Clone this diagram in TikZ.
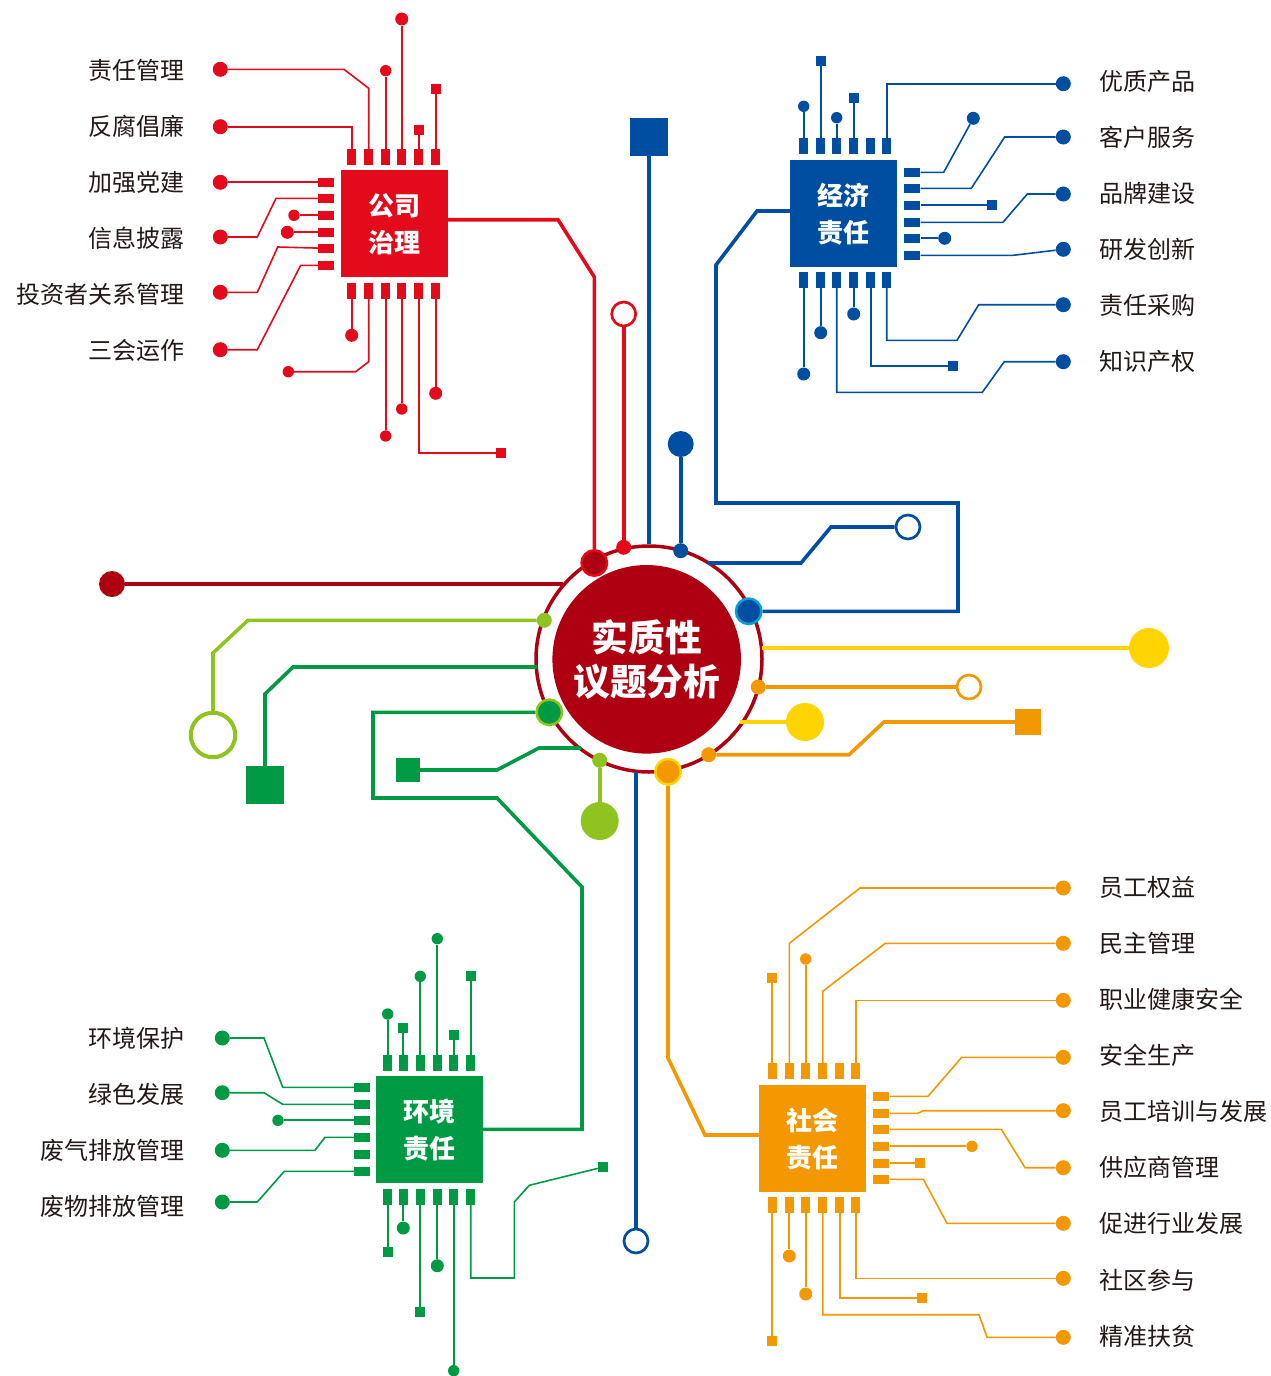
\documentclass[tikz,border=0pt]{standalone}
\usepackage{fontspec}
\newfontfamily\cjk{Noto Sans CJK SC}
\usetikzlibrary{positioning}
\definecolor{cred}{HTML}{E20A1B}
\definecolor{cdark}{HTML}{AE0010}
\definecolor{cblue}{HTML}{004EA2}
\definecolor{ccyan}{HTML}{00A0D9}
\definecolor{cgreen}{HTML}{009A44}
\definecolor{clime}{HTML}{8FC31F}
\definecolor{corange}{HTML}{F39800}
\definecolor{cyellow}{HTML}{FFD400}
\definecolor{ctext}{HTML}{231815}
\tikzset{
    chip/.style={fill, minimum size=107pt, inner sep=0pt},
    chiptext/.style={text=white, inner sep=0pt, align=center,
        font=\cjk\bfseries\fontsize{26}{37}\selectfont},
    pinv/.style={fill, minimum width=9pt, minimum height=16pt, inner sep=0pt},
    pinh/.style={fill, minimum width=16pt, minimum height=9pt, inner sep=0pt},
    dotl/.style={circle, fill, minimum size=15pt, inner sep=0pt},
    dotm/.style={circle, fill, minimum size=13pt, inner sep=0pt},
    dots/.style={circle, fill, minimum size=11.4pt, inner sep=0pt},
    sqs/.style={fill, minimum size=10pt, inner sep=0pt},
    wirea/.style={line width=2.1pt},
    wireb/.style={line width=1.6pt},
    trunk/.style={line width=3.6pt},
    hubdot/.style 2 args={circle, draw=#1, fill=#2, line width=2.5pt, minimum size=25.5pt, inner sep=0pt},
    hollow/.style={circle, draw, fill=white, line width=2.7pt, minimum size=24pt, inner sep=0pt},
    lblw/.style={anchor=east, text=ctext, inner sep=0pt, font=\cjk\fontsize{24}{28}\selectfont},
    lble/.style={anchor=west, text=ctext, inner sep=0pt, font=\cjk\fontsize{24}{28}\selectfont},
}
\begin{document}
\begin{tikzpicture}[x=1pt, y=-1pt]
    \useasboundingbox (0,0) rectangle (1271,1376);
    % hub
    \node[circle, draw=cdark, fill=white, line width=3.5pt, minimum size=226pt, inner sep=0pt] (ring) at (649,659) {};
    \node[circle, fill=cdark, text=white, minimum size=188.6pt, inner sep=0pt, align=center,
        font=\cjk\bfseries\fontsize{36.7}{44}\selectfont] (hub) at (646.7,659.3) {实质性\\议题分析};
    \node[hubdot={cred}{cdark}] (hr) at (594.3,563) {};
    \node[hubdot={ccyan}{cblue}] (hb) at (748.7,611.3) {};
    \node[hubdot={clime}{cgreen}] (hg) at (549.3,712.3) {};
    \node[hubdot={cyellow}{corange}] (ho) at (668,771.7) {};
    \node[circle, fill=cred, minimum size=15pt, inner sep=0pt] (sr) at (623.7,547.3) {};
    \node[circle, fill=cblue, minimum size=15pt, inner sep=0pt] (sb) at (680.7,550.7) {};
    \node[circle, fill=corange, minimum size=15pt, inner sep=0pt] (so1) at (758.3,687) {};
    \node[circle, fill=corange, minimum size=15pt, inner sep=0pt] (so2) at (708.7,754.7) {};
    \node[circle, fill=clime, minimum size=15pt, inner sep=0pt] (sl1) at (544.3,620.3) {};
    \node[circle, fill=clime, minimum size=15pt, inner sep=0pt] (sl2) at (599.7,760.3) {};

    % red chip
    \begin{scope}[color=cred]
    \node[chip] (rchip) at (394.5,223.5) {};
    \node[chiptext] (rname) at (394.5,224.5) {公司\\治理};
    \foreach \i/\x in {1/351.7,2/368.7,3/385.7,4/401.7,5/418.7,6/435.7} {
        \node[pinv] (rt\i) at (\x,157) {};
        \node[pinv] (rb\i) at (\x,291) {};
    }
    \foreach \i/\y in {1/182.3,2/198.3,3/215.3,4/232.3,5/248.3,6/265.3}
        \node[pinh] (rl\i) at (326,\y) {};
    \foreach \n/\x/\y in {re1/220.3/69.3,re2/220.3/126.7,re3/220.3/182.3,re4/220.3/237,re5/220.3/292.3,re6/220.3/349.7}
        \node[dotl] (\n) at (\x,\y) {};
    \foreach \n/\x/\y in {rd4/401.7/19,rd7/351.7/335.3,rd10/435.7/393.3,rd2/287.3/232.3}
        \node[dotm] (\n) at (\x,\y) {};
    \foreach \n/\x/\y in {rd1/294/215.3,rd3/385.7/70.7,rd8/288.3/371.7,rd9/385.7/436,rd11/401.7/409}
        \node[dots] (\n) at (\x,\y) {};
    \foreach \n/\x/\y in {rs1/418.7/130,rs2/435.7/89,rs3/501/453}
        \node[sqs] (\n) at (\x,\y) {};
    \foreach \a/\b in {rl1/re3,rl3/rd1,rl4/rd2,rt3/rd3,rt4/rd4,rt5/rs1,rt6/rs2,rb1/rd7,rb3/rd9,rb4/rd11,rb6/rd10}
        \draw[wirea] (\a) -- (\b);
    \draw[wireb] (rt2) -- (368.7,88.3) -- (344,69.3) -- (re1);
    \draw[wireb] (rt1) -- (351.7,126.7) -- (re2);
    \draw[wireb] (rl2) -- (276,198.3) -- (257.3,237) -- (re4);
    \draw[wireb] (rl5) -- (277.7,247) -- (257.3,292.3) -- (re5);
    \draw[wireb] (rl6) -- (300.7,265.3) -- (257.3,349.7) -- (re6);
    \draw[wireb] (rb2) -- (368.7,361.7) -- (355.7,371.7) -- (rd8);
    \draw[wireb] (rb5) -- (418.7,453) -- (rs3);
    \end{scope}

    % blue chip
    \begin{scope}[color=cblue]
    \node[chip] (bchip) at (843.8,213.3) {};
    \node[chiptext] (bname) at (843.8,214.3) {经济\\责任};
    \foreach \i/\x in {1/803.7,2/820.7,3/836.7,4/853.7,5/870.7,6/886.7} {
        \node[pinv] (bt\i) at (\x,146) {};
        \node[pinv] (bb\i) at (\x,280) {};
    }
    \foreach \i/\y in {1/172.3,2/188.3,3/205.3,4/222.3,5/238.3,6/255.3}
        \node[pinh] (br\i) at (912.3,\y) {};
    \foreach \n/\y in {be1/83.7,be2/137,be3/194,be4/249.3,be5/304.7,be6/361.7}
        \node[dotl] (\n) at (1063.3,\y) {};
    \foreach \n/\x/\y in {bd1/973.3/118.3,bd2/944.7/238.3,bd3/803.7/374,bd4/820.7/332.7,bd5/853.7/314}
        \node[dotm] (\n) at (\x,\y) {};
    \foreach \n/\x/\y in {bd6/803.7/106.3,bd7/836.7/117.7}
        \node[dots] (\n) at (\x,\y) {};
    \foreach \n/\x/\y in {bs1/992.3/205.3,bs2/820.7/61,bs3/853.7/97.7,bs4/953.3/366}
        \node[sqs] (\n) at (\x,\y) {};
    \foreach \a/\b in {br3/bs1,br5/bd2,bt1/bd6,bt2/bs2,bt3/bd7,bt4/bs3,bb1/bd3,bb2/bd4,bb4/bd5}
        \draw[wirea] (\a) -- (\b);
    \draw[wireb] (bt6) -- (886.7,83.7) -- (be1);
    \draw[wireb] (br1) -- (943.7,172.3) -- (bd1);
    \draw[wireb] (br2) -- (971.3,188.3) -- (1004.7,137) -- (be2);
    \draw[wireb] (br4) -- (1003,222.3) -- (1027.3,194) -- (be3);
    \draw[wireb] (br6) -- (1013.3,255.3) -- (be4);
    \draw[wireb] (bb3) -- (836.7,392.3) -- (982.3,392.3) -- (1004.3,361.7) -- (be6);
    \draw[wireb] (bb5) -- (870.7,366) -- (bs4);
    \draw[wireb] (bb6) -- (886.7,340.3) -- (957,340.3) -- (978.7,304.7) -- (be5);
    \end{scope}

    % green chip
    \begin{scope}[color=cgreen]
    \node[chip] (gchip) at (429.5,1129.3) {};
    \node[chiptext] (gname) at (429.5,1130.3) {环境\\责任};
    \foreach \i/\x in {1/387.7,2/403.3,3/420.3,4/437.3,5/453.7,6/470.7} {
        \node[pinv] (gt\i) at (\x,1063) {};
        \node[pinv] (gb\i) at (\x,1197) {};
    }
    \foreach \i/\y in {1/1087.3,2/1104.3,3/1120.3,4/1137.3,5/1154.3,6/1171.3}
        \node[pinh] (gl\i) at (362,\y) {};
    \foreach \n/\y in {ge1/1038,ge2/1092.7,ge3/1150.3,ge4/1202}
        \node[dotl] (\n) at (222.3,\y) {};
    \foreach \n/\x/\y in {gd1/403.3/1228,gd2/437.3/1265.7}
        \node[dotm] (\n) at (\x,\y) {};
    \foreach \n/\x/\y in {gd3/278/1120.3,gd4/387.7/1014,gd5/420.3/976.3,gd6/437.3/938.7,gd7/453.7/1370.7}
        \node[dots] (\n) at (\x,\y) {};
    \foreach \n/\x/\y in {gs1/403.3/1028,gs2/453.7/1035,gs3/470.7/976,gs4/387.7/1252,gs5/420.3/1312,gs6/603.3/1167}
        \node[sqs] (\n) at (\x,\y) {};
    \foreach \a/\b in {gl3/gd3,gt1/gd4,gt2/gs1,gt3/gd5,gt4/gd6,gt5/gs2,gt6/gs3,gb1/gs4,gb2/gd1,gb3/gs5,gb4/gd2,gb5/gd7}
        \draw[wirea] (\a) -- (\b);
    \draw[wireb] (gl1) -- (282.7,1087.3) -- (264,1038) -- (ge1);
    \draw[wireb] (gl2) -- (282.7,1104.3) -- (264,1092.7) -- (ge2);
    \draw[wireb] (gl4) -- (325,1137.3) -- (315,1150.3) -- (ge3);
    \draw[wireb] (gl6) -- (284.3,1171.3) -- (257.3,1202) -- (ge4);
    \draw[wireb] (gb6) -- (470.7,1278) -- (514.3,1278) -- (514.3,1202) -- (529.3,1185.3) -- (gs6);
    \end{scope}

    % orange chip
    \begin{scope}[color=corange]
    \node[chip] (ochip) at (812.8,1138.3) {};
    \node[chiptext] (oname) at (812.8,1139.3) {社会\\责任};
    \foreach \i/\x in {1/772.3,2/789.3,3/805.7,4/822.7,5/839.7,6/855.7} {
        \node[pinv] (ot\i) at (\x,1071) {};
        \node[pinv] (ob\i) at (\x,1205) {};
    }
    \foreach \i/\y in {1/1096.3,2/1113.3,3/1129.3,4/1146.3,5/1163.3,6/1179.3}
        \node[pinh] (or\i) at (881.3,\y) {};
    \foreach \n/\y in {oe1/888,oe2/943.3,oe3/1000.3,oe4/1057.3,oe5/1110.7,oe6/1167.7,oe7/1223.3,oe8/1278.3,oe9/1337.3}
        \node[dotl] (\n) at (1063.3,\y) {};
    \foreach \n/\x/\y in {od1/789.3/1256,od2/805.7/1294}
        \node[dotm] (\n) at (\x,\y) {};
    \foreach \n/\x/\y in {od3/805.7/959,od4/972/1146.3}
        \node[dots] (\n) at (\x,\y) {};
    \foreach \n/\x/\y in {os1/772.3/978,os2/920.3/1163.3,os3/772.3/1341,os4/922.3/1297.7}
        \node[sqs] (\n) at (\x,\y) {};
    \foreach \a/\b in {ot1/os1,ot3/od3,or4/od4,or5/os2,ob1/os3,ob2/od1,ob3/od2}
        \draw[wirea] (\a) -- (\b);
    \draw[wireb] (ot2) -- (789.3,943.3) -- (860,888) -- (oe1);
    \draw[wireb] (ot4) -- (822.7,991.3) -- (885.3,943.3) -- (oe2);
    \draw[wireb] (ot6) -- (855.7,1000.3) -- (oe3);
    \draw[wireb] (or1) -- (928,1096.3) -- (961.7,1057.3) -- (oe4);
    \draw[wireb] (or2) -- (918,1113.3) -- (923.3,1110.7) -- (oe5);
    \draw[wireb] (or3) -- (1001.3,1129.3) -- (1025,1167.7) -- (oe6);
    \draw[wireb] (or6) -- (923.3,1179.3) -- (947,1223.3) -- (oe7);
    \draw[wireb] (ob4) -- (822.7,1314.7) -- (979,1314.7) -- (987,1337.3) -- (oe9);
    \draw[wireb] (ob5) -- (839.7,1297.7) -- (os4);
    \draw[wireb] (ob6) -- (855.7,1278.3) -- (oe8);
    \end{scope}

    % trunks
    \coordinate (cr) at (563,584);
    \coordinate (cy1) at (762,648);
    \coordinate (cy2) at (740,722);
    \coordinate (cg1) at (537,667);
    \coordinate (cg2) at (581,748);
    \coordinate (cb1) at (708,563);
    \coordinate (cb2) at (636,772);
    \coordinate (rout) at (448,219.7);
    \coordinate (bout) at (790.3,211);
    \coordinate (oout) at (759.3,1135);
    \node[fill=cblue, minimum size=38pt, inner sep=0pt] (bsq) at (649,136.5) {};
    \node[hollow, draw=cred] (rh) at (623.7,314) {};
    \node[circle, fill=cblue, minimum size=26pt, inner sep=0pt] (bdot) at (680.7,444) {};
    \node[hollow, draw=cblue] (bh1) at (908,527) {};
    \node[hollow, draw=cblue] (bh2) at (636,1241) {};
    \node[circle, fill=cdark, minimum size=26pt, inner sep=0pt] (rdot) at (112,584) {};
    \node[circle, draw=clime, fill=white, line width=4pt, minimum size=44.5pt, inner sep=0pt] (lh) at (213,735) {};
    \node[fill=cgreen, minimum size=38pt, inner sep=0pt] (gsq1) at (265,785) {};
    \node[fill=cgreen, minimum size=24pt, inner sep=0pt] (gsq2) at (408,770) {};
    \node[circle, fill=clime, minimum size=38pt, inner sep=0pt] (ldot) at (599.7,821) {};
    \node[circle, fill=cyellow, minimum size=40pt, inner sep=0pt] (ydot1) at (1149,648) {};
    \node[circle, fill=cyellow, minimum size=38pt, inner sep=0pt] (ydot2) at (805,722) {};
    \node[hollow, draw=corange] (oh) at (969,687) {};
    \node[fill=corange, minimum size=26pt, inner sep=0pt] (osq) at (1028,722) {};

    \draw[trunk, cred] (rout) -- (558,219.7) -- (594.3,277) -- (hr);
    \draw[trunk, cred] (sr) -- (rh);
    \draw[trunk, cblue] (ring.north) -- (bsq);
    \draw[trunk, cblue] (sb) -- (bdot);
    \draw[trunk, cblue] (cb1) -- (801,563) -- (831,527) -- (bh1);
    \draw[trunk, cblue] (bout) -- (757,211) -- (716,265) -- (716,503) -- (958,503) -- (958,611.3) -- (hb);
    \draw[trunk, cblue] (cb2) -- (bh2);
    \draw[trunk, cdark] (cr) -- (rdot);
    \draw[trunk, clime] (sl1) -- (248,620.3) -- (213,653) -- (lh);
    \draw[trunk, clime] (sl2) -- (ldot);
    \draw[trunk, cgreen] (cg1) -- (293,667) -- (265,694) -- (gsq1);
    \draw[trunk, cgreen] (hg) -- (373,712.3) -- (373,798) -- (497,798) -- (582,887) -- (582,1129.3) -- (gchip);
    \draw[trunk, cgreen] (cg2) -- (539,748) -- (497,770) -- (gsq2);
    \draw[trunk, cyellow] (cy1) -- (ydot1);
    \draw[trunk, cyellow] (cy2) -- (ydot2);
    \draw[trunk, corange] (so1) -- (oh);
    \draw[trunk, corange] (so2) -- (849,754.7) -- (884,722) -- (osq);
    \draw[trunk, corange] (ho) -- (668,1058) -- (705,1135) -- (oout);

    % labels
    \foreach \n/\y/\t in {a1/70/责任管理,a2/126/反腐倡廉,a3/182/加强党建,a4/238/信息披露,a5/294/投资者关系管理,a6/350/三会运作,
        c1/1038/环境保护,c2/1094/绿色发展,c3/1150/废气排放管理,c4/1206/废物排放管理}
        \node[lblw] (\n) at (185,\y) {\t};
    \foreach \n/\y/\t in {b1/81/优质产品,b2/137/客户服务,b3/193/品牌建设,b4/249/研发创新,b5/305/责任采购,b6/361/知识产权,
        d1/887/员工权益,d2/943/民主管理,d3/999/职业健康安全,d4/1055/安全生产,d5/1111/员工培训与发展,d6/1167/供应商管理,
        d7/1223/促进行业发展,d8/1280/社区参与,d9/1336/精准扶贫}
        \node[lble] (\n) at (1099,\y) {\t};
\end{tikzpicture}
\end{document}
